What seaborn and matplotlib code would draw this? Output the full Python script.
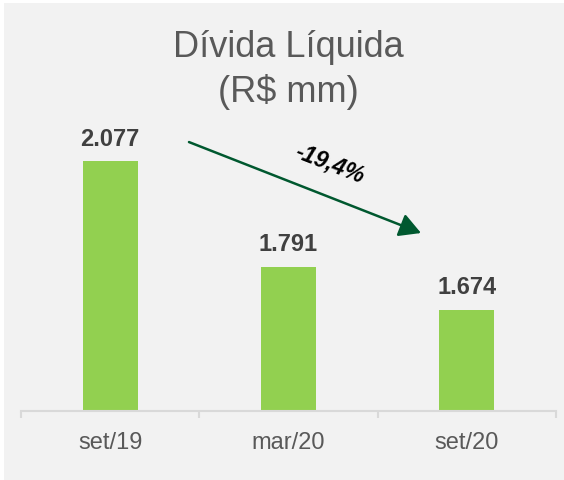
import matplotlib
matplotlib.use("Agg")
import matplotlib.pyplot as plt
import seaborn as sns
import pandas as pd
from matplotlib.patches import Rectangle

# data
periods = ["set/19", "mar/20", "set/20"]
net_debt = [2077, 1791, 1674]
value_labels = ["2.077", "1.791", "1.674"]
change_label = "-19,4%"

BG = "#f2f2f2"
BAR = "#92d050"
GRID = "#d9d9d9"
TXT = "#595959"

sns.set_style("white")
plt.rcParams["font.family"] = ["Liberation Sans", "DejaVu Sans"]

df = pd.DataFrame({"Periodo": periods, "Divida": net_debt})

fig = plt.figure(figsize=(5.64, 4.81), dpi=100, facecolor="white")
# gray panel with thin white margin top/left
fig.patches.append(Rectangle((4 / 564, 0), 1, 1 - 4 / 481, transform=fig.transFigure,
                             facecolor=BG, edgecolor="none", zorder=-1))

ax = fig.add_axes([21 / 564, 1 - 411.5 / 481, 535 / 564, 313 / 481])
ax.set_facecolor("none")

sns.barplot(data=df, x="Periodo", y="Divida", color=BAR, width=0.31,
            saturation=1, linewidth=0, ax=ax)

ax.set_ylim(1400, 2250)
ax.set_xlim(-0.5, 2.5)
ax.set_xlabel("")
ax.set_ylabel("")
ax.set_yticks([])

for s in ["top", "right", "left"]:
    ax.spines[s].set_visible(False)
ax.spines["bottom"].set_color(GRID)
ax.spines["bottom"].set_linewidth(1.5)

ax.tick_params(axis="x", which="major", bottom=False, length=0, pad=15,
               labelsize=17, labelcolor=TXT)
ax.set_xticks([-0.5, 0.5, 1.5, 2.5], minor=True)
ax.tick_params(axis="x", which="minor", bottom=True, length=5, width=1.5,
               color=GRID, direction="out")

ax.bar_label(ax.containers[0], labels=value_labels, padding=8,
             fontsize=17, fontweight="bold", color="#404040")

# trend arrow
ax.annotate("", xy=(1.743, 1882), xytext=(0.442, 2129),
            arrowprops=dict(arrowstyle="-|>,head_length=1.0,head_width=0.55",
                            mutation_scale=13, color="#00582f", lw=1.8,
                            shrinkA=0, shrinkB=0))
ax.text(1.233, 2072, change_label, rotation=-21.4, rotation_mode="anchor",
        ha="center", va="center", fontsize=16.5, fontweight="bold",
        fontstyle="italic", color="black")

cx = 288.5 / 564
fig.text(cx, 1 - 57.3 / 481, "Dívida Líquida", ha="center", va="baseline",
         fontsize=26, color=TXT)
fig.text(cx, 1 - 101.7 / 481, "(R$ mm)", ha="center", va="baseline",
         fontsize=26, color=TXT)

fig.savefig("out.png", dpi=100, facecolor=fig.get_facecolor())
